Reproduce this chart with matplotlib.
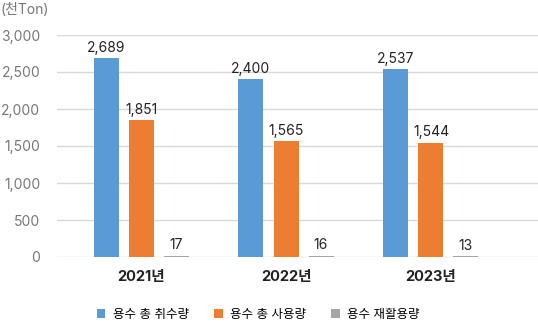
import matplotlib.pyplot as plt
import numpy as np

plt.rcParams['font.family'] = ['Inter', 'Noto Sans CJK KR', 'DejaVu Sans']

# données
annees = ['2021년', '2022년', '2023년']
series = ['용수 총 취수량', '용수 총 사용량', '용수 재활용량']
prise = [2689, 2400, 2537]
usage = [1851, 1565, 1544]
recyclage = [17, 16, 13]
couleurs = ['#5B9BD5', '#ED7D31', '#A5A5A5']

fig = plt.figure(figsize=(5.38, 3.24), dpi=100)
ax = fig.add_axes([57 / 538, (324 - 257) / 324, (538 - 57) / 538, (257 - 35) / 324])

x = np.arange(len(annees))
largeur = 25 / 145
pas = 35 / 145
for i, (vals, nom) in enumerate(zip([prise, usage, recyclage], series)):
    barres = ax.bar(x + (i - 1) * pas, vals, largeur, color=couleurs[i], label=nom, zorder=3)
    for b, v in zip(barres, vals):
        ax.text(b.get_x() + b.get_width() / 2, v + 45, f'{v:,}', ha='center', va='bottom',
                fontsize=10, color='#222222')

ax.set_xlim((57 - 141) / 145, (538 - 141) / 145)
ax.set_ylim(0, 3000)
ax.set_yticks(np.arange(0, 3001, 500))
ax.set_yticklabels([f'{v:,}' for v in range(0, 3001, 500)], fontsize=10, color='#777777')
ax.set_xticks(x)
ax.set_xticklabels(annees, fontsize=10.5, fontweight='bold', color='#222222')
ax.tick_params(axis='both', length=0)
ax.tick_params(axis='y', pad=12)
ax.tick_params(axis='x', pad=9)
ax.grid(axis='y', color='#D9D9D9', linewidth=1, zorder=0)
for s in ax.spines.values():
    s.set_visible(False)

fig.text(1 / 538, 1 - 10 / 324, '(천Ton)', fontsize=10, color='#777777', va='center', ha='left')

fig.legend(loc='center', bbox_to_anchor=(0.48, 1 - 316 / 324 + 0.004), ncol=3, frameon=False,
           fontsize=9, handlelength=0.7, handleheight=0.7, columnspacing=2.0, handletextpad=0.6)

fig.savefig('out.png', dpi=100)
